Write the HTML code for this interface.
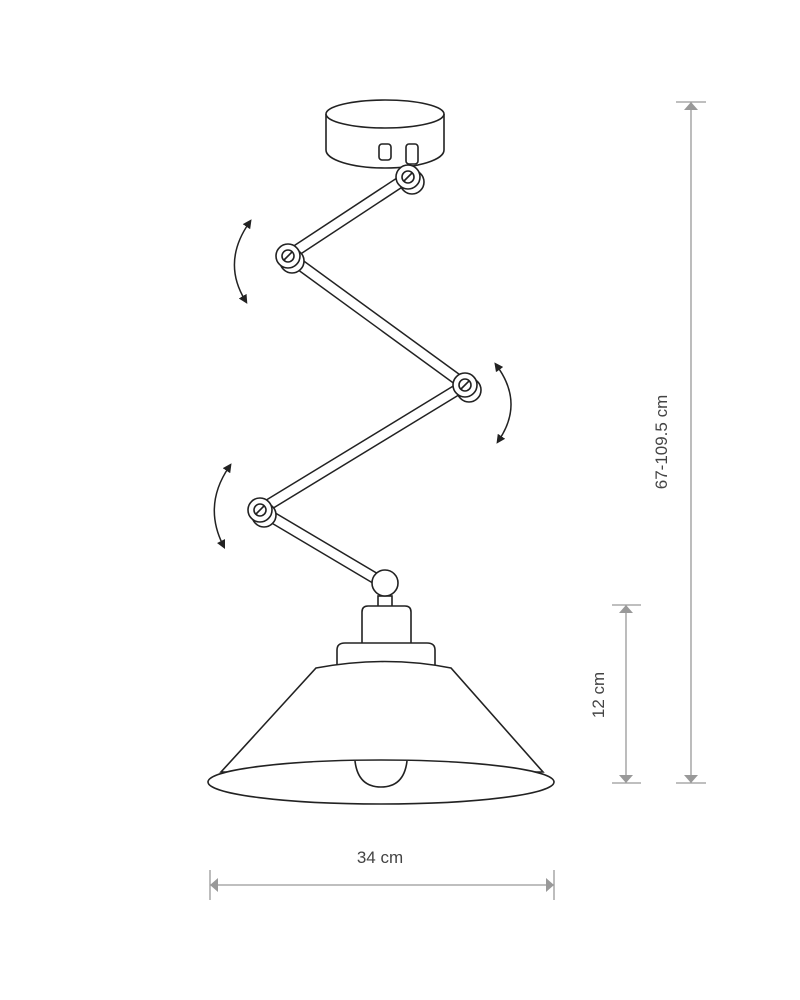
<!DOCTYPE html>
<html><head><style>html,body{margin:0;padding:0;background:#fff}svg{display:block}</style></head>
<body>
<svg width="800" height="1000" viewBox="0 0 800 1000" xmlns="http://www.w3.org/2000/svg">
<defs>
<marker id="ah" viewBox="0 0 10 10" refX="5" refY="5" markerWidth="9" markerHeight="9" markerUnits="userSpaceOnUse" orient="auto-start-reverse"><path d="M0,0L10,5L0,10z" fill="#222"/></marker>
</defs>
<g fill="#fff" stroke="#222" stroke-width="1.6">
<!-- canopy -->
<path d="M326,114 L326,150 A59,18 0 0 0 444,150 L444,114"/>
<ellipse cx="385" cy="114" rx="59" ry="14"/>
<rect x="379" y="144" width="12" height="16" rx="3"/>
<rect x="406" y="144" width="12" height="20" rx="3"/>
<!-- arms -->
<g stroke-linecap="butt">
<line x1="408" y1="177" x2="288" y2="256" stroke="#222" stroke-width="12"/>
<line x1="408" y1="177" x2="288" y2="256" stroke="#fff" stroke-width="9"/>
<line x1="288" y1="256" x2="465" y2="385" stroke="#222" stroke-width="12"/>
<line x1="288" y1="256" x2="465" y2="385" stroke="#fff" stroke-width="9"/>
<line x1="465" y1="385" x2="260" y2="510" stroke="#222" stroke-width="12"/>
<line x1="465" y1="385" x2="260" y2="510" stroke="#fff" stroke-width="9"/>
<line x1="260" y1="510" x2="383" y2="583" stroke="#222" stroke-width="12"/>
<line x1="260" y1="510" x2="383" y2="583" stroke="#fff" stroke-width="9"/>
</g>
<!-- joints -->
<g>
<circle cx="412" cy="182" r="12"/><circle cx="408" cy="177" r="12"/><circle cx="408" cy="177" r="6"/><line x1="404" y1="181" x2="412" y2="173"/>
<circle cx="292" cy="261" r="12"/><circle cx="288" cy="256" r="12"/><circle cx="288" cy="256" r="6"/><line x1="284" y1="260" x2="292" y2="252"/>
<circle cx="469" cy="390" r="12"/><circle cx="465" cy="385" r="12"/><circle cx="465" cy="385" r="6"/><line x1="461" y1="389" x2="469" y2="381"/>
<circle cx="264" cy="515" r="12"/><circle cx="260" cy="510" r="12"/><circle cx="260" cy="510" r="6"/><line x1="256" y1="514" x2="264" y2="506"/>
</g>
<!-- ball and neck -->
<rect x="378" y="596" width="14" height="12"/>
<circle cx="385" cy="583" r="13"/>
<path d="M362,643 L362,612 Q362,606 368,606 L405,606 Q411,606 411,612 L411,643"/>
<path d="M337,665 L337,650 Q337,643 345,643 L427,643 Q435,643 435,650 L435,665"/>
<!-- shade -->
<path d="M316,668 Q386,655 451,668 L543,772 L221,772 Z"/>
<ellipse cx="381" cy="782" rx="173" ry="22"/>
<path d="M355,761 Q358,787 381,787 Q404,787 407,761" fill="none"/>
</g>
<!-- rotation arrows -->
<g fill="none" stroke="#222" stroke-width="1.5" marker-start="url(#ah)" marker-end="url(#ah)">
<path d="M249,223 Q222,262 245,300"/>
<path d="M497,366 Q524,403 499,440"/>
<path d="M229,467 Q203,505 223,545"/>
</g>
<!-- dimensions -->
<g stroke="#999" stroke-width="1.3" fill="#999">
<line x1="676" y1="102" x2="706" y2="102"/><line x1="676" y1="783" x2="706" y2="783"/>
<line x1="691" y1="102" x2="691" y2="783"/>
<path d="M684,110L698,110L691,102z M684,775L698,775L691,783z" stroke="none"/>
<line x1="612" y1="605" x2="641" y2="605"/><line x1="612" y1="783" x2="641" y2="783"/>
<line x1="626" y1="605" x2="626" y2="783"/>
<path d="M619,613L633,613L626,605z M619,775L633,775L626,783z" stroke="none"/>
<line x1="210" y1="870" x2="210" y2="900"/><line x1="554" y1="870" x2="554" y2="900"/>
<line x1="210" y1="885" x2="554" y2="885"/>
<path d="M218,878L218,892L210,885z M546,878L546,892L554,885z" stroke="none"/>
</g>
<g font-family="Liberation Sans, sans-serif" font-size="17" fill="#444">
<text x="380" y="863" text-anchor="middle">34 cm</text>
<text transform="translate(667,442) rotate(-90)" text-anchor="middle">67-109.5 cm</text>
<text transform="translate(604,695) rotate(-90)" text-anchor="middle">12 cm</text>
</g>
</svg>
</body></html>
